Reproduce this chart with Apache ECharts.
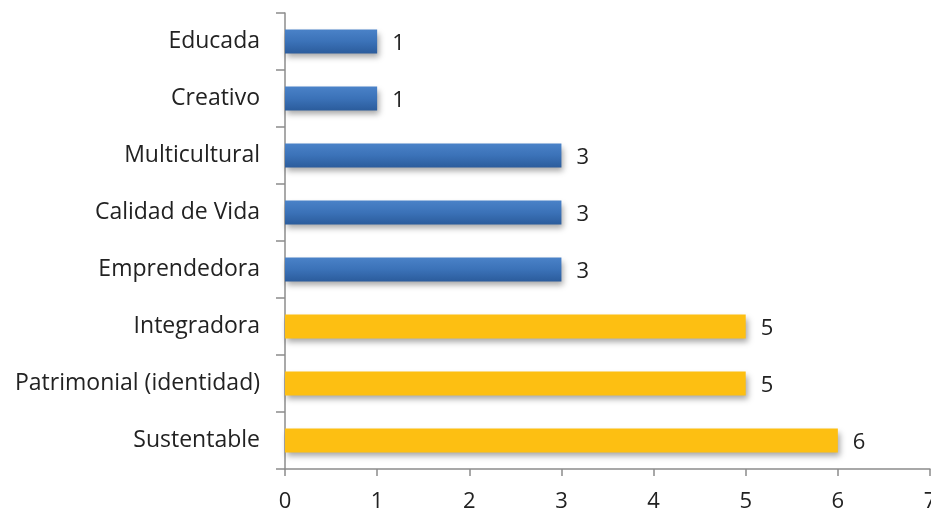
<!DOCTYPE html>
<html><head><meta charset="utf-8">
<script src="https://cdn.jsdelivr.net/npm/echarts@6/dist/echarts.min.js"></script>
<style>html,body{margin:0;padding:0;background:#fff}#c{width:931px;height:513px}</style>
</head><body><div id="c"></div>
<script>
const categories = ["Sustentable","Patrimonial (identidad)","Integradora","Emprendedora","Calidad de Vida","Multicultural","Creativo","Educada"];
const values = [6,5,5,3,3,3,1,1];
const groups = ["y","y","y","b","b","b","b","b"];
const xTicks = [0,1,2,3,4,5,6,7];

const blue = new echarts.graphic.LinearGradient(0,0,0,1,[
  {offset:0,color:'#4a82c8'},{offset:0.5,color:'#3b72b8'},{offset:1,color:'#2b5c9c'}]);
const yellow = '#fdbf12';
const font = '"Open Sans", sans-serif';

const chart = echarts.init(document.getElementById('c'));
chart.setOption({
  animation:false,
  grid:{left:285,right:1,top:13,bottom:44,containLabel:false,outerBoundsMode:'none'},
  xAxis:{type:'value',min:0,max:7,interval:1,
    axisLine:{show:true,lineStyle:{color:'#8c8c8c',width:1.5}},
    axisTick:{show:true,length:7,lineStyle:{color:'#8c8c8c',width:1.5}},
    splitLine:{show:false},
    axisLabel:{color:'#222',fontSize:22,fontFamily:font,margin:22,
      formatter:v=>String(xTicks[v])}},
  yAxis:{type:'category',data:categories,
    axisLine:{show:true,lineStyle:{color:'#8c8c8c',width:1.5}},
    axisTick:{show:true,length:9,lineStyle:{color:'#8c8c8c',width:1.5}},
    axisLabel:{color:'#222',fontSize:23,fontFamily:font,margin:25,padding:[4,0,0,0]}},
  series:[{type:'bar',barWidth:'42%',
    data:values.map((v,i)=>({value:v,itemStyle:{color:groups[i]==='y'?yellow:blue}})),
    itemStyle:{shadowColor:'rgba(0,0,0,0.35)',shadowBlur:6,shadowOffsetX:2,shadowOffsetY:4},
    label:{show:true,position:'right',distance:15,offset:[0,2],color:'#222',fontSize:22,fontFamily:font}}]
});
</script></body></html>
